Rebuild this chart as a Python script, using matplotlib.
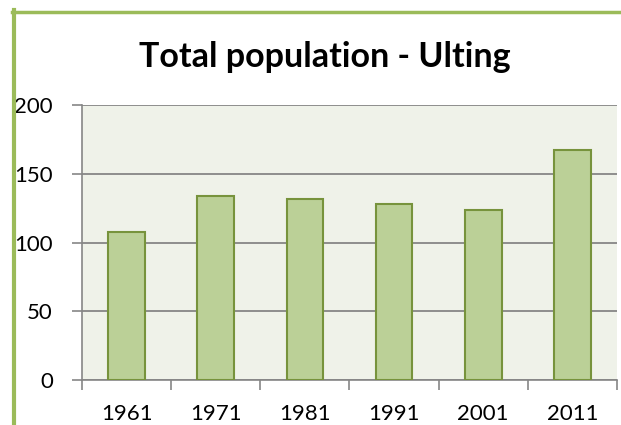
import matplotlib
matplotlib.use("Agg")
import matplotlib.pyplot as plt
from matplotlib.lines import Line2D

years = ["1961", "1971", "1981", "1991", "2001", "2011"]
population = [108, 134, 132, 128, 124, 167]
yticks = [0, 50, 100, 150, 200]
title = "Total population - Ulting"

W, H = 621, 425
fig = plt.figure(figsize=(W/100, H/100), dpi=100)
fig.patch.set_facecolor("white")

ax = fig.add_axes([82/W, 1-380/H, (617-82)/W, (380-105)/H])
ax.set_facecolor("#EFF2E9")
x = list(range(len(years)))
ax.bar(x, population, width=0.41, color="#BBD097", edgecolor="#77933C", linewidth=1.5, zorder=3)
ax.set_xlim(-0.5, len(years)-0.5)
ax.set_ylim(0, 200)
ax.set_yticks(yticks)
ax.set_yticklabels([str(v) for v in yticks])
ax.set_xticks([i-0.5 for i in range(len(years)+1)], minor=False)
ax.set_xticklabels([""]*(len(years)+1))
ax.set_xticks(x, minor=True)
ax.set_xticklabels(years, minor=True)
ax.tick_params(axis="x", which="minor", length=0, pad=17, labelsize=16)
ax.tick_params(axis="x", which="major", length=7, width=1.2, color="#868686")
ax.tick_params(axis="y", length=7, width=1.2, color="#868686", pad=14, labelsize=16)
for lab in ax.get_xticklabels(minor=True) + ax.get_yticklabels():
    lab.set_fontfamily("Lato")
ax.grid(axis="y", color="#868686", linewidth=1.3, zorder=1)
for s in ["top", "right"]:
    ax.spines[s].set_visible(False)
for s in ["left", "bottom"]:
    ax.spines[s].set_color("#868686")
    ax.spines[s].set_linewidth(1.2)

fig.text(325/W, 1-57/H, title, ha="center", va="center", fontsize=24.5,
         fontweight="bold", fontfamily="Lato")

green = "#9BBB59"
fig.add_artist(Line2D([12/W, 1], [1-11.5/H, 1-11.5/H], color=green, linewidth=2.5, transform=fig.transFigure))
fig.add_artist(Line2D([13.5/W, 13.5/W], [0, 1-10/H], color=green, linewidth=3, transform=fig.transFigure))

fig.savefig("out.png", dpi=100)
